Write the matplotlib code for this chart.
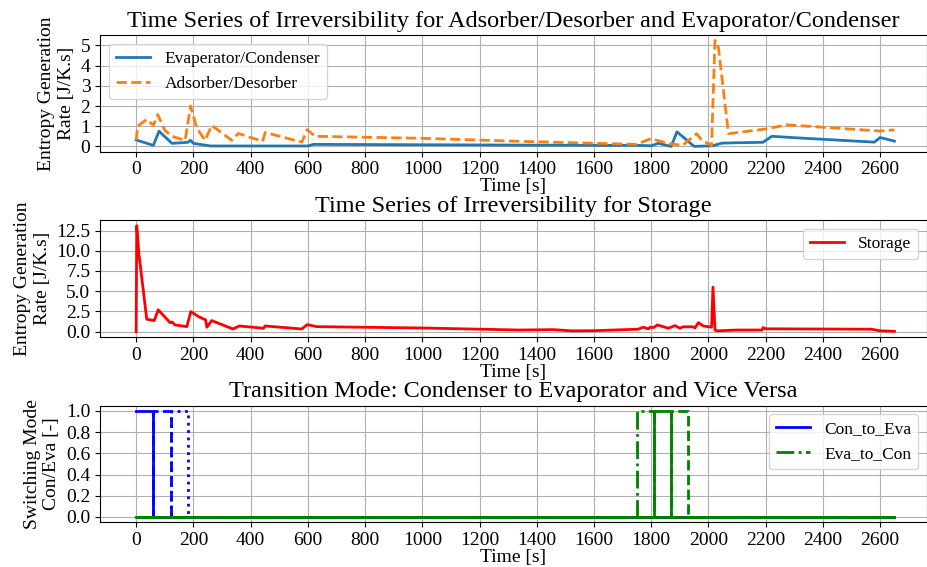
import matplotlib
matplotlib.use("Agg")
import matplotlib.pyplot as plt
from matplotlib.ticker import MultipleLocator

plt.rcParams['font.family'] = ['Liberation Serif', 'DejaVu Serif']
plt.rcParams['font.size'] = 14

# --- Adsorber/Desorber and Evaporator/Condenser ---
t_evap = [0, 60, 80, 125, 180, 190, 200, 260, 600, 620, 1000, 1400, 1750, 1800, 1825,
          1870, 1890, 1950, 2015, 2047, 2100, 2190, 2222, 2300, 2580, 2600, 2650]
s_evap = [0.32, 0.05, 0.75, 0.15, 0.2, 0.3, 0.15, 0.02, 0.02, 0.1, 0.08, 0.06, 0.05, 0.03, 0.15,
          0.0, 0.72, 0.0, 0.03, 0.16, 0.18, 0.2, 0.5, 0.43, 0.21, 0.44, 0.26]

t_ads = [0, 5, 37, 60, 75, 100, 125, 171, 190, 212, 241, 264, 334, 357, 442, 451, 579, 598,
         625, 1000, 1342, 1750, 1798, 1866, 1910, 1959, 1977, 2011, 2023, 2035, 2070, 2204,
         2273, 2600, 2650]
s_ads = [0.3, 1.0, 1.34, 1.04, 1.58, 0.8, 0.5, 0.3, 2.0, 0.9, 0.3, 1.04, 0.3, 0.64, 0.25, 0.69,
         0.21, 0.83, 0.5, 0.4, 0.25, 0.1, 0.38, 0.13, 0.05, 0.63, 0.3, 0.05, 5.25, 4.9, 0.63, 0.87,
         1.07, 0.76, 0.82]

# --- Storage ---
t_sto = [0, 2, 10, 37, 63, 77, 119, 125, 136, 177, 191, 218, 243, 247, 264, 338, 361, 445, 451,
         579, 598, 631, 1000, 1342, 1457, 1522, 1600, 1754, 1773, 1790, 1796, 1808, 1822, 1860,
         1883, 1901, 1912, 1947, 1953, 1965, 1982, 2011, 2016, 2023, 2030, 2100, 2188, 2191,
         2200, 2570, 2600, 2650]
s_sto = [0.0, 13.1, 9.5, 1.54, 1.37, 2.7, 1.1, 1.2, 0.83, 0.62, 2.48, 1.86, 1.45, 0.54, 1.37,
         0.33, 0.7, 0.42, 0.7, 0.33, 0.87, 0.62, 0.45, 0.2, 0.25, 0.1, 0.12, 0.3, 0.55, 0.33,
         0.55, 0.5, 0.83, 0.42, 0.75, 0.42, 0.6, 0.6, 0.45, 1.12, 0.7, 0.55, 5.5, 0.2, 0.1, 0.2,
         0.2, 0.5, 0.35, 0.3, 0.1, 0.05]

# --- switching mode (step signals) ---
t_c2e_1 = [0, 60, 60, 2650]
v_c2e_1 = [1, 1, 0, 0]
t_c2e_2 = [0, 60, 60, 120, 120, 2650]
v_c2e_2 = [0, 0, 1, 1, 0, 0]
t_c2e_3 = [0, 120, 120, 180, 180, 2650]
v_c2e_3 = [0, 0, 1, 1, 0, 0]

t_e2c_1 = [0, 1750, 1750, 1810, 1810, 2650]
v_e2c_1 = [0, 0, 1, 1, 0, 0]
t_e2c_2 = [0, 1810, 1810, 1870, 1870, 2650]
v_e2c_2 = [0, 0, 1, 1, 0, 0]
t_e2c_3 = [0, 1870, 1870, 1930, 1930, 2650]
v_e2c_3 = [0, 0, 1, 1, 0, 0]

fig, axes = plt.subplots(3, 1, figsize=(9.27, 5.67), dpi=100)
fig.subplots_adjust(left=0.108, right=1.0, top=0.938, bottom=0.079, hspace=0.59)

ax = axes[0]
ax.plot(t_evap, s_evap, color='#1f77b4', lw=2, label='Evaperator/Condenser')
ax.plot(t_ads, s_ads, color='#ff7f0e', lw=2, ls='--', label='Adsorber/Desorber')
ax.set_title('Time Series of Irreversibility for Adsorber/Desorber and Evaporator/Condenser', fontsize=17.5)
ax.set_ylabel('Entropy Generation\nRate [J/K.s]')
ax.set_yticks([0, 1, 2, 3, 4, 5])
ax.legend(loc='upper left', fontsize=12.5)

ax = axes[1]
ax.plot(t_sto, s_sto, color='red', lw=2, label='Storage')
ax.set_title('Time Series of Irreversibility for Storage', fontsize=17.5)
ax.set_ylabel('Entropy Generation\nRate [J/K.s]')
ax.set_yticks([0, 2.5, 5, 7.5, 10, 12.5])
ax.yaxis.set_major_formatter('{x:.1f}')
ax.legend(loc='upper right', fontsize=12.5)

ax = axes[2]
ax.plot(t_c2e_1, v_c2e_1, color='blue', lw=2, ls='-', label='Con_to_Eva')
ax.plot(t_c2e_2, v_c2e_2, color='blue', lw=2, ls='--')
ax.plot(t_c2e_3, v_c2e_3, color='blue', lw=2, ls=':')
ax.plot(t_e2c_1, v_e2c_1, color='green', lw=2, ls='-.', label='Eva_to_Con')
ax.plot(t_e2c_2, v_e2c_2, color='green', lw=2, ls='-')
ax.plot(t_e2c_3, v_e2c_3, color='green', lw=2, ls='--')
ax.set_title('Transition Mode: Condenser to Evaporator and Vice Versa', fontsize=17.5)
ax.set_ylabel('Switching Mode\nCon/Eva [-]')
ax.set_yticks([0, 0.2, 0.4, 0.6, 0.8, 1.0])
ax.yaxis.set_major_formatter('{x:.1f}')
ax.legend(loc='upper right', fontsize=12.5)

for ax in axes:
    ax.set_xlabel('Time [s]', labelpad=0)
    ax.set_xlim(-126, 2764)
    ax.xaxis.set_major_locator(MultipleLocator(200))
    ax.grid(True)

fig.savefig('out.png')
